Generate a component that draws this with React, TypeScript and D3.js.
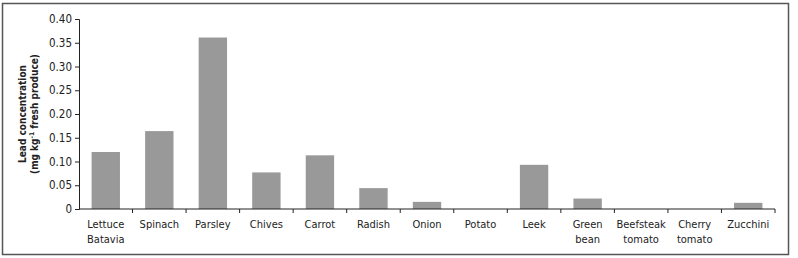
import { useEffect, useRef } from 'react';
import * as d3 from 'd3';

const categories = [
  'Lettuce\nBatavia', 'Spinach', 'Parsley', 'Chives', 'Carrot', 'Radish', 'Onion',
  'Potato', 'Leek', 'Green\nbean', 'Beefsteak\ntomato', 'Cherry\ntomato', 'Zucchini',
];
const leadValues = [0.12, 0.164, 0.361, 0.077, 0.113, 0.044, 0.015, 0, 0.093, 0.022, 0, 0, 0.013];
const yTicks = [0, 0.05, 0.1, 0.15, 0.2, 0.25, 0.3, 0.35, 0.4];

const FONT = '"Liberation Sans Narrow", "DejaVu Sans Condensed", "Arial Narrow", sans-serif';

export default function App() {
  const svgRef = useRef<SVGSVGElement>(null);

  useEffect(() => {
    if (!svgRef.current) return;
    const width = 798;
    const height = 258;
    const margin = { left: 79, right: 23, top: 19, bottom: 49 };

    const svg = d3.select(svgRef.current);
    svg.selectAll('*').remove();
    svg.attr('width', width).attr('height', height);

    // outer frame
    svg.append('rect')
      .attr('x', 2.5).attr('y', 3.5)
      .attr('width', 786).attr('height', 251)
      .attr('fill', '#fff')
      .attr('stroke', '#555')
      .attr('stroke-width', 1.5);

    const x = d3.scaleBand<string>()
      .domain(categories)
      .range([margin.left, width - margin.right])
      .paddingInner(0.47)
      .paddingOuter(0.235);

    const y = d3.scaleLinear()
      .domain([0, 0.4])
      .range([height - margin.bottom, margin.top]);

    const g = svg.append('g');

    // bars
    g.selectAll('rect.bar')
      .data(leadValues)
      .join('rect')
      .attr('class', 'bar')
      .attr('x', (_, i) => x(categories[i])!)
      .attr('width', x.bandwidth())
      .attr('y', d => y(d))
      .attr('height', d => y(0) - y(d))
      .attr('fill', '#999999');

    // y axis
    const yAxis = g.append('g')
      .attr('transform', `translate(${margin.left},0)`)
      .call(d3.axisLeft(y).tickValues(yTicks).tickSize(4)
        .tickFormat(d => (+d === 0 ? '0' : d3.format('.2f')(+d))));
    yAxis.select('.domain').attr('stroke', '#222');
    yAxis.selectAll('.tick line').attr('stroke', '#222');
    yAxis.selectAll('.tick text')
      .attr('font-family', FONT)
      .attr('font-size', 11.5)
      .attr('fill', '#222')
      .attr('x', -7);

    // x axis with ticks between categories
    const x0 = margin.left;
    const x1 = width - margin.right;
    const step = (x1 - x0) / categories.length;
    const xAxis = g.append('g');
    xAxis.append('line')
      .attr('x1', x0).attr('x2', x1)
      .attr('y1', y(0)).attr('y2', y(0))
      .attr('stroke', '#222');
    xAxis.selectAll('line.tk')
      .data(d3.range(1, categories.length + 1))
      .join('line')
      .attr('class', 'tk')
      .attr('x1', i => x0 + i * step).attr('x2', i => x0 + i * step)
      .attr('y1', y(0)).attr('y2', y(0) + 4)
      .attr('stroke', '#222');

    const labels = xAxis.selectAll('text')
      .data(categories)
      .join('text')
      .attr('x', d => x(d)! + x.bandwidth() / 2)
      .attr('y', y(0) + 19)
      .attr('text-anchor', 'middle')
      .attr('font-family', FONT)
      .attr('font-size', 11)
      .attr('fill', '#222');
    labels.selectAll('tspan')
      .data(d => d.split('\n'))
      .join('tspan')
      .attr('x', function () {
        return (this.parentNode as SVGTextElement).getAttribute('x');
      })
      .attr('dy', (_, i) => (i === 0 ? 0 : 15))
      .text(d => d);

    // y axis title
    const title = g.append('text')
      .attr('transform', `translate(26,${(y(0) + y(0.4)) / 2}) rotate(-90)`)
      .attr('text-anchor', 'middle')
      .attr('font-family', FONT)
      .attr('font-size', 10)
      .attr('font-weight', 'bold')
      .attr('fill', '#222');
    title.append('tspan').attr('x', 0).attr('dy', 0).text('Lead concentration');
    const l2 = title.append('tspan').attr('x', 0).attr('dy', 12);
    l2.append('tspan').text('(mg kg');
    l2.append('tspan').attr('font-size', 6.5).attr('dy', -4).text('-1');
    l2.append('tspan').attr('dy', 4).text(' fresh produce)');
  }, []);

  return (
    <svg ref={svgRef} style={{ position: 'absolute', left: 0, top: 0, background: '#fff' }} />
  );
}
